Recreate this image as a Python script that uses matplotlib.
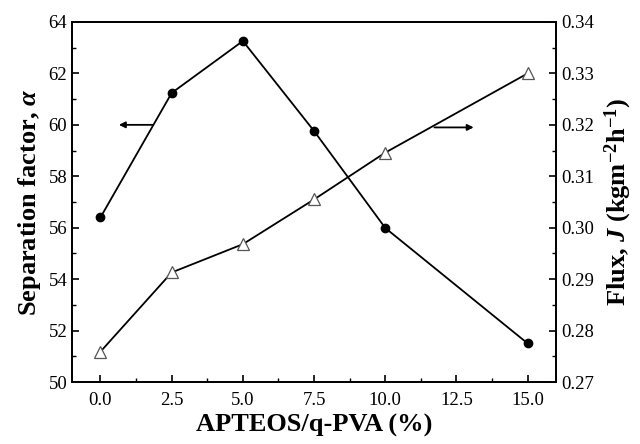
import matplotlib
matplotlib.use("Agg")
import matplotlib.pyplot as plt
from matplotlib.ticker import MultipleLocator, FormatStrFormatter

# Dados
apteos = [0.0, 2.5, 5.0, 7.5, 10.0, 15.0]
separacao = [56.4, 61.24, 63.26, 59.76, 55.99, 51.5]
fluxo = [0.2759, 0.2913, 0.2968, 0.3055, 0.3146, 0.3300]

plt.rcParams['font.family'] = ['Liberation Serif', 'DejaVu Serif']
plt.rcParams['mathtext.fontset'] = 'custom'
plt.rcParams['mathtext.rm'] = 'Liberation Serif:bold'
plt.rcParams['mathtext.it'] = 'Liberation Serif:bold:italic'
plt.rcParams['mathtext.bf'] = 'Liberation Serif:bold'

fig = plt.figure(figsize=(6.4, 4.44), dpi=100)
ax = fig.add_axes([0.1125, 0.1396, 0.7565, 0.8109])
ax2 = ax.twinx()

# Fator de separação (círculos cheios)
ax.plot(apteos, separacao, '-', color='black', linewidth=1.3,
        marker='o', markersize=6, markerfacecolor='black', zorder=5)
# Fluxo (triângulos vazios)
ax2.plot(apteos, fluxo, '-', color='black', linewidth=1.3,
         marker='^', markersize=8, markerfacecolor='white',
         markeredgecolor='#555555', markeredgewidth=0.9, zorder=5)

ax.set_xlim(-1, 16)
ax.set_ylim(50, 64)
ax2.set_ylim(0.27, 0.34)

ax.xaxis.set_major_locator(MultipleLocator(2.5))
ax.xaxis.set_minor_locator(MultipleLocator(1.25))
ax.xaxis.set_major_formatter(FormatStrFormatter('%.1f'))
ax.yaxis.set_major_locator(MultipleLocator(2))
ax.yaxis.set_minor_locator(MultipleLocator(1))
ax2.yaxis.set_major_locator(MultipleLocator(0.01))
ax2.yaxis.set_minor_locator(MultipleLocator(0.005))
ax2.yaxis.set_major_formatter(FormatStrFormatter('%.2f'))

for a in (ax, ax2):
    a.tick_params(which='major', direction='in', length=5, width=1.2, labelsize=13.5)
    a.tick_params(which='minor', direction='in', length=3, width=1.0)
    for s in a.spines.values():
        s.set_linewidth(1.3)
ax.tick_params(axis='x', which='both', top=False)
ax.tick_params(axis='x', pad=7)

# Setas indicando o eixo de cada curva
ax.annotate('', xy=(0.55, 60.0), xytext=(1.92, 60.0),
            arrowprops=dict(arrowstyle='-|>', color='black', lw=1.3, mutation_scale=9))
ax2.annotate('', xy=(13.2, 0.3195), xytext=(11.63, 0.3195),
             arrowprops=dict(arrowstyle='-|>', color='black', lw=1.3, mutation_scale=9))

ax.set_xlabel('APTEOS/q-PVA (%)', fontsize=19, fontweight='bold', labelpad=4)
ax.set_ylabel(r'Separation factor, $\alpha$', fontsize=19, fontweight='bold', labelpad=4)
ax2.set_ylabel(r'Flux, $J$ (kgm$^{-2}$h$^{-1}$)', fontsize=19, fontweight='bold', labelpad=6)

fig.savefig('out.png', dpi=100)
